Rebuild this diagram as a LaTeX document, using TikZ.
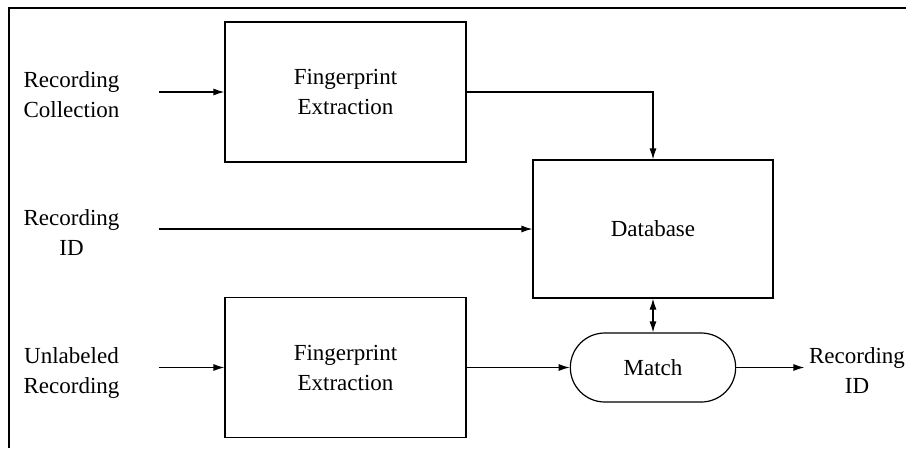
\documentclass[tikz,border=0pt]{standalone}
\usepackage{fontspec}
\setmainfont{Liberation Serif}
\usetikzlibrary{shapes.misc,arrows.meta}
\begin{document}
\begin{tikzpicture}[x=1pt,y=-1pt,>={Latex[length=11pt,width=7pt]},line width=1.2pt,
		box/.style={draw,minimum width=241pt,minimum height=140pt,align=center,font=\fontsize{23}{30}\selectfont},
		lbl/.style={inner sep=0pt,align=center,font=\fontsize{23}{30}\selectfont}]
				\useasboundingbox (0,0) rectangle (906,448);
				\draw (9,448) -- (9,8) -- (906,8);
				\node[box] (fe1) at (345.5,92) {Fingerprint\\Extraction};
				\node[box] (fe2) at (345.5,367.5) {Fingerprint\\Extraction};
				\node[box,minimum width=240pt,minimum height=138pt] (db) at (653,229) {Database};
				\node[box,rounded rectangle,minimum width=172pt,minimum height=69pt] (match) at (653,367.5) {Match};
				\node[lbl,minimum width=173pt] (rc) at (71.5,95) {Recording\\Collection};
				\node[lbl,minimum width=173pt] (rid) at (71.5,233) {Recording\\ID};
				\node[lbl,minimum width=173pt] (ul) at (71.5,373) {Unlabeled\\Recording};
				\node[lbl,minimum width=104pt] (out) at (857,371) {Recording\\ID};
				\draw[->] (rc.east |- fe1) to (fe1.west);
				\draw[->] (rid.east |- db) to (db.west);
				\draw[->] (ul.east |- fe2) to (fe2.west);
				\draw[->] (fe1.east) -| (db.north);
				\draw[->] (fe2.east) to (match.west);
				\draw[<->] (db.south) to (match.north);
				\draw[->] (match.east) to (out.west |- match);
			\end{tikzpicture}
\end{document}
